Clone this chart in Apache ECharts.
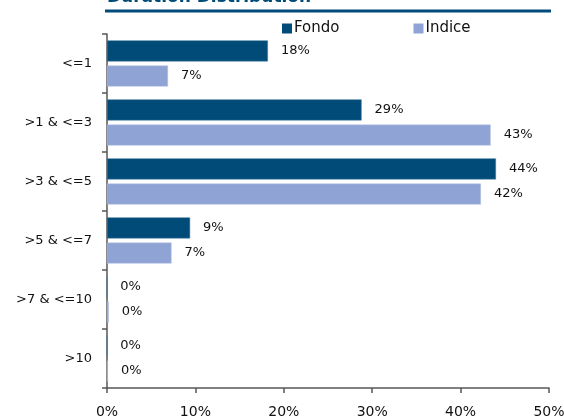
<!DOCTYPE html>
<html>
<head>
<meta charset="utf-8">
<script src="https://cdn.jsdelivr.net/npm/echarts@6/dist/echarts.min.js"></script>
<style>html,body{margin:0;padding:0;background:#fff}#c{width:564px;height:416px}</style>
</head>
<body>
<div id="c"></div>
<script>
const categories = ['<=1', '>1 & <=3', '>3 & <=5', '>5 & <=7', '>7 & <=10', '>10'];
const fondo = [18.2, 28.8, 44.0, 9.4, 0, 0];
const indice = [6.9, 43.4, 42.3, 7.3, 0.2, 0.1];
const xTicks = [0, 10, 20, 30, 40, 50];
const seriesNames = ['Fondo', 'Indice'];
const titleText = 'Duration Distribution';

const FONT = "'DejaVu Sans', sans-serif";
const chart = echarts.init(document.getElementById('c'), null, {renderer: 'canvas'});
const lbl = {
  show: true, position: 'right', distance: 13,
  fontFamily: FONT, fontSize: 13, color: '#111',
  formatter: p => Math.round(p.value) + '%'
};
chart.setOption({
  animation: false,
  backgroundColor: '#fff',
  graphic: [
    {type: 'text', x: 107, y: 6, style: {text: titleText, fill: '#004b78', font: "bold 17px " + FONT, verticalAlign: 'bottom'}},
    {type: 'line', shape: {x1: 105, y1: 11, x2: 551, y2: 11}, style: {stroke: '#004b78', lineWidth: 3}}
  ],
  legend: {
    data: seriesNames, left: 277, top: 16, itemWidth: 10, itemHeight: 10, itemGap: 74,
    icon: 'rect', itemStyle: {borderWidth: 0},
    textStyle: {fontFamily: FONT, fontSize: 15, color: '#111', padding: [0,0,0,-3]}
  },
  grid: {left: 107, right: 15, top: 34, bottom: 28, containLabel: false, outerBoundsMode: 'none'},
  xAxis: {
    type: 'value', min: xTicks[0], max: xTicks[xTicks.length - 1], interval: 10,
    splitLine: {show: false},
    axisLine: {show: true, lineStyle: {color: '#5a5656', width: 1.5}},
    axisTick: {show: true, length: 5, lineStyle: {color: '#5a5656', width: 1.5}},
    axisLabel: {formatter: v => v + '%', fontFamily: FONT, fontSize: 14, color: '#111', margin: 17}
  },
  yAxis: {
    type: 'category', data: categories, inverse: true,
    axisLine: {show: true, lineStyle: {color: '#5a5656', width: 1.5}},
    axisTick: {show: true, length: 5, lineStyle: {color: '#5a5656', width: 1.5}},
    axisLabel: {fontFamily: FONT, fontSize: 13, color: '#111', margin: 15}
  },
  series: [
    {name: seriesNames[0], type: 'bar', data: fondo, barWidth: 21, barGap: '20%',
     itemStyle: {color: '#004b78', borderColor: '#3f7aa0', borderWidth: 0.5}, label: lbl},
    {name: seriesNames[1], type: 'bar', data: indice, barWidth: 21,
     itemStyle: {color: '#8fa3d4', borderColor: '#b5c3e4', borderWidth: 0.5}, label: lbl}
  ]
});
</script>
</body>
</html>
